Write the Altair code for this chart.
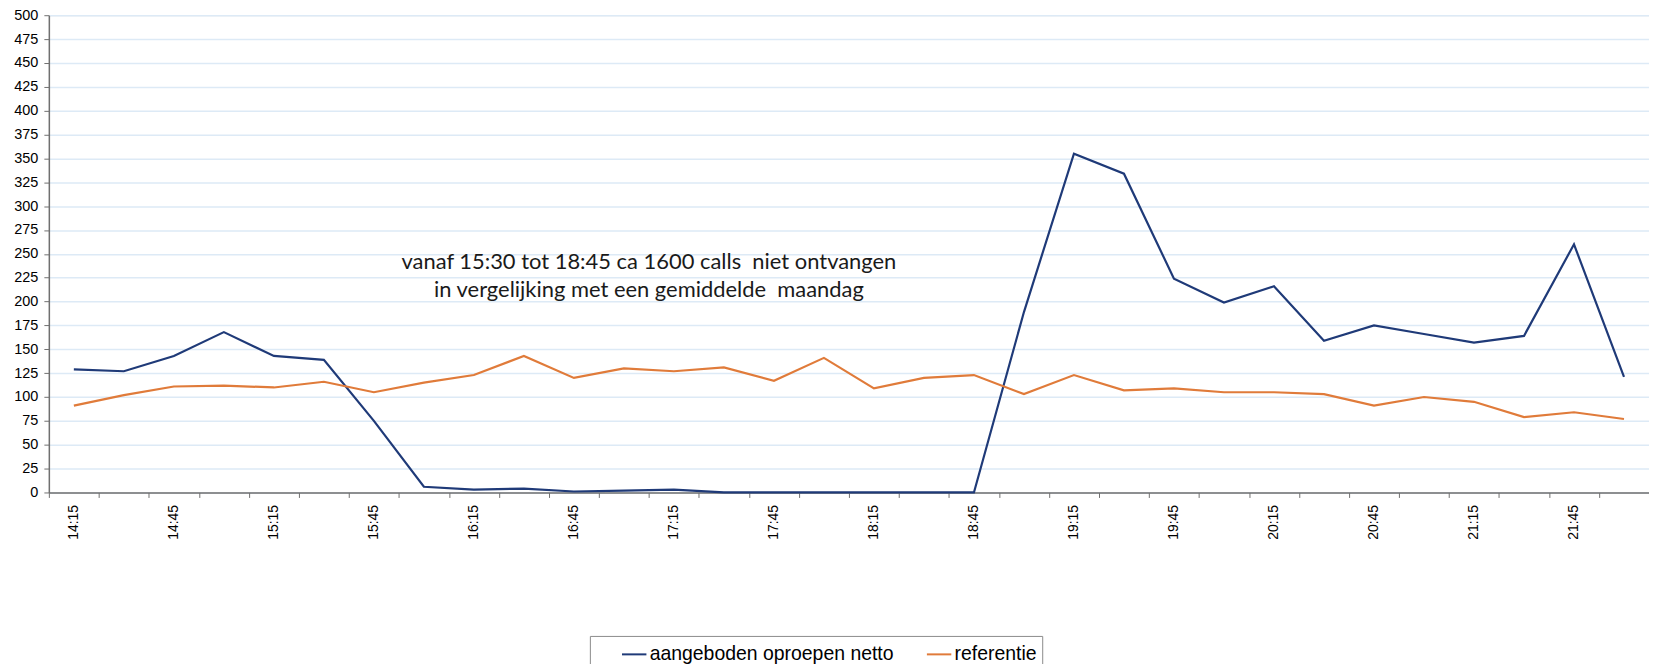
import altair as alt
import pandas as pd

times = ["14:15", "14:30", "14:45", "15:00", "15:15", "15:30", "15:45", "16:00",
         "16:15", "16:30", "16:45", "17:00", "17:15", "17:30", "17:45", "18:00",
         "18:15", "18:30", "18:45", "19:00", "19:15", "19:30", "19:45", "20:00",
         "20:15", "20:30", "20:45", "21:00", "21:15", "21:30", "21:45", "22:00"]
netto = [129, 127, 143, 168, 143, 139, 75, 6,
         3, 4, 1, 2, 3, 0, 0, 0,
         0, 0, 0, 189, 355, 334, 224, 199,
         216, 159, 175, 166, 157, 164, 260, 121]
referentie = [91, 102, 111, 112, 110, 116, 105, 115,
              123, 143, 120, 130, 127, 131, 117, 141,
              109, 120, 123, 103, 123, 107, 109, 105,
              105, 103, 91, 100, 95, 79, 84, 77]
series_names = ["aangeboden oproepen netto", "referentie"]
series_colors = ["#1F3A78", "#E07B3A"]
y_ticks = list(range(0, 501, 25))
note_lines = ["vanaf 15:30 tot 18:45 ca 1600 calls\u00a0 niet ontvangen",
              "in vergelijking met een gemiddelde\u00a0 maandag"]
note_time = "17:00"
note_values = [241, 212]

rows = []
for name, vals in zip(series_names, [netto, referentie]):
    for t, v in zip(times, vals):
        rows.append({"time": t, "series": name, "value": v})
df = pd.DataFrame(rows)

notes = pd.DataFrame({"time": [note_time] * len(note_lines),
                      "value": note_values, "text": note_lines})

x_scale = alt.Scale(type="band", domain=times, paddingInner=0, paddingOuter=0)
y_scale = alt.Scale(domain=[0, 500], nice=False)

x_axis = alt.Axis(title=None, tickBand="extent", labelAngle=270,
                  labelAlign="right", labelBaseline="middle",
                  labelOverlap=False,
                  labelExpr="(slice(datum.label, -2) == '15' || slice(datum.label, -2) == '45') ? datum.label : ''",
                  labelFont="Liberation Sans", labelFontSize=14,
                  labelColor="#000000", labelPadding=7, tickSize=5,
                  tickColor="#707070", domainColor="#707070",
                  domainWidth=1.5, grid=False)
y_axis = alt.Axis(title=None, values=y_ticks, grid=True,
                  labelOverlap=False,
                  gridColor="#DDEAF6", gridWidth=1.5,
                  labelFont="Liberation Sans", labelFontSize=14.5,
                  labelColor="#000000", labelPadding=6, tickSize=5,
                  tickColor="#707070", domainColor="#707070",
                  domainWidth=1.5)

lines = alt.Chart(df).mark_line(strokeWidth=2.2).encode(
    x=alt.X("time:N", scale=x_scale, bandPosition=0.5, axis=x_axis),
    y=alt.Y("value:Q", scale=y_scale, axis=y_axis),
    color=alt.Color("series:N",
                    scale=alt.Scale(domain=series_names, range=series_colors),
                    legend=alt.Legend(title=None, orient="none", legendX=543,
                                      legendY=623, direction="horizontal",
                                      strokeColor="#8C8C8C", padding=5,
                                      symbolType="stroke", symbolSize=600,
                                      symbolStrokeWidth=2, symbolOffset=26,
                                      labelLimit=500,
                                      labelExpr="datum.label == 'referentie' ? datum.label + '\u00a0\u00a0\u00a0\u00a0\u00a0\u00a0\u00a0\u00a0\u00a0\u00a0' : datum.label",
                                      labelFont="Liberation Sans",
                                      labelFontSize=19.5, labelColor="#000000",
                                      columnPadding=5, labelOffset=2)),
    order=alt.Order("series:N"),
)

text = alt.Chart(notes).mark_text(font="Lato", fontSize=22, color="#1a1a1a",
                                  align="center", baseline="middle").encode(
    x=alt.X("time:N", scale=x_scale, bandPosition=1.0, axis=x_axis),
    y=alt.Y("value:Q", scale=y_scale, axis=y_axis),
    text="text:N",
)

chart = alt.layer(lines, text).properties(
    width=1606, height=479,
    autosize=alt.AutoSizeParams(type="none"),
    padding={"left": 41, "top": 6, "right": 0, "bottom": 190},
).configure_view(stroke="#9A9A9A", strokeWidth=2).configure(background="white")

chart.save("out.html", embed_options={"renderer": "svg", "actions": False})
